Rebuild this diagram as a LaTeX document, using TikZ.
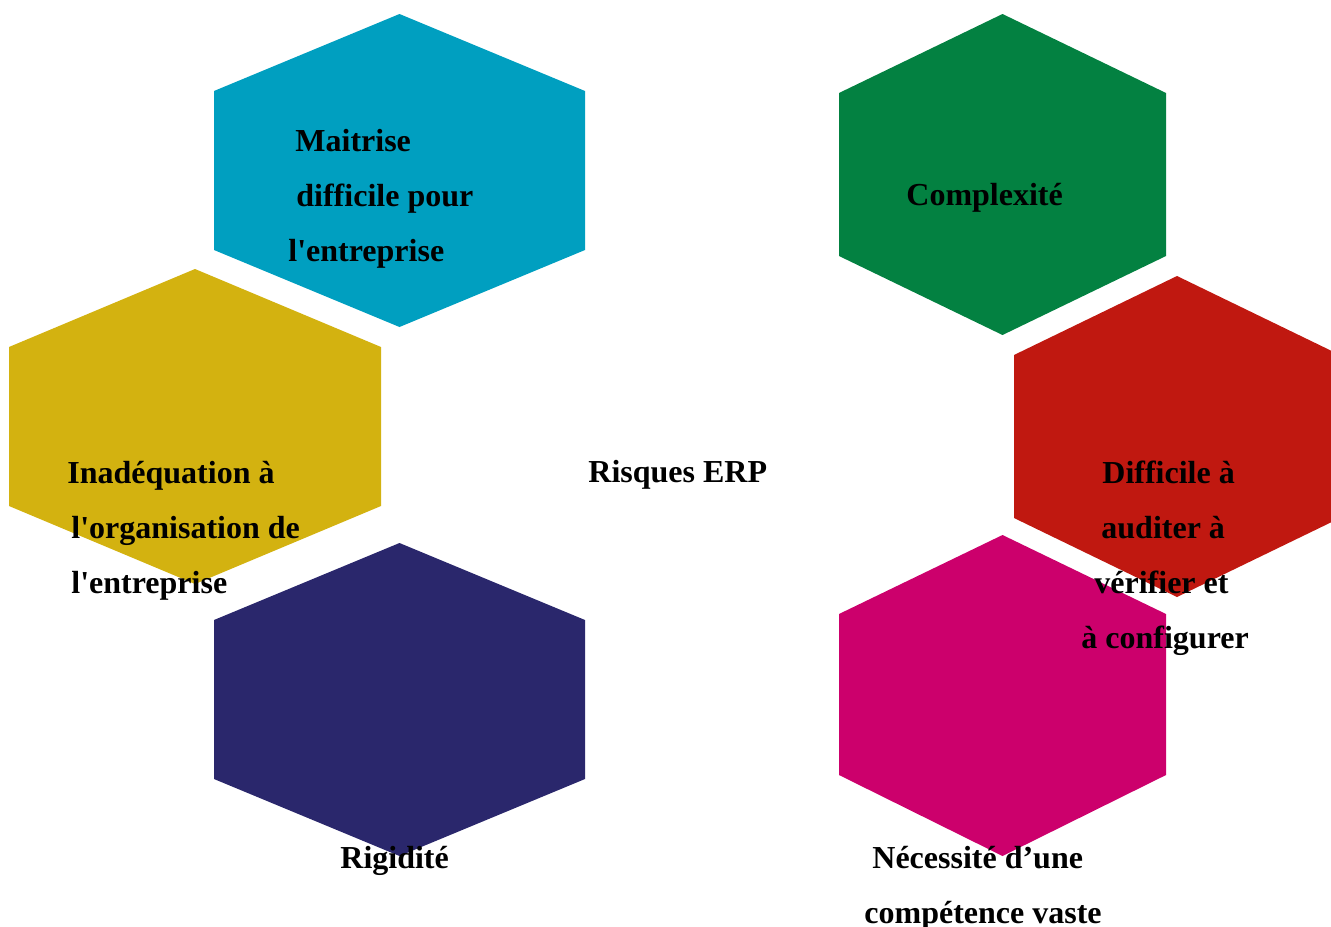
\documentclass[tikz,border=0pt]{standalone}
\usepackage{fontspec}
\setmainfont{Liberation Serif}[Ligatures=TeXOff]
\definecolor{hexblue}{RGB}{0,159,192}
\definecolor{hexgreen}{RGB}{3,129,65}
\definecolor{hexyellow}{RGB}{211,178,16}
\definecolor{hexred}{RGB}{192,24,16}
\definecolor{hexnavy}{RGB}{42,39,108}
\definecolor{hexmagenta}{RGB}{204,0,108}
\begin{document}
\begin{tikzpicture}[x=0.5pt,y=-0.5pt,
  lbl/.style={font=\fontsize{16}{20}\selectfont\bfseries, inner sep=0pt, anchor=base west, text=black}]
\useasboundingbox (0,0) rectangle (1331,926);
\clip (0,0) rectangle (1331,926);
% hexagons
\fill[hexblue] (399.5,14) -- (585,91) -- (585,250) -- (399.5,327) -- (214,250) -- (214,91) -- cycle;
\fill[hexgreen] (1002.5,14) -- (1166,93) -- (1166,256) -- (1002.5,335) -- (839,256) -- (839,93) -- cycle;
\fill[hexyellow] (195,269) -- (381,347) -- (381,506) -- (195,584) -- (9,506) -- (9,347) -- cycle;
\fill[hexred] (1177,276) -- (1340,355) -- (1340,518) -- (1177,597) -- (1014,518) -- (1014,355) -- cycle;
\fill[hexnavy] (399.5,543) -- (585,620) -- (585,779) -- (399.5,856) -- (214,779) -- (214,620) -- cycle;
\fill[hexmagenta] (1002.5,535) -- (1166,614) -- (1166,775) -- (1002.5,856) -- (839,775) -- (839,614) -- cycle;
% labels
\node[lbl] (b1) at (295,151.5) {Maitrise};
\node[lbl] (b2) at (296,206.5) {difficile pour};
\node[lbl] (b3) at (288,261.5) {l'entreprise};
\node[lbl] (g1) at (906,205.5) {Complexité};
\node[lbl] (c1) at (588,482.5) {Risques ERP};
\node[lbl] (y1) at (67,483.5) {Inadéquation à};
\node[lbl] (y2) at (71,538.5) {l'organisation de};
\node[lbl] (y3) at (71,593.5) {l'entreprise};
\node[lbl] (r1) at (1102,483.5) {Difficile à};
\node[lbl] (r2) at (1101,538.5) {auditer à};
\node[lbl] (r3) at (1094,593.5) {vérifier et};
\node[lbl] (r4) at (1081,648.5) {à configurer};
\node[lbl] (n1) at (340,868) {Rigidité};
\node[lbl] (m1) at (872,868.5) {Nécessité d’une};
\node[lbl] (m2) at (864,923.5) {compétence vaste};
\end{tikzpicture}
\end{document}
